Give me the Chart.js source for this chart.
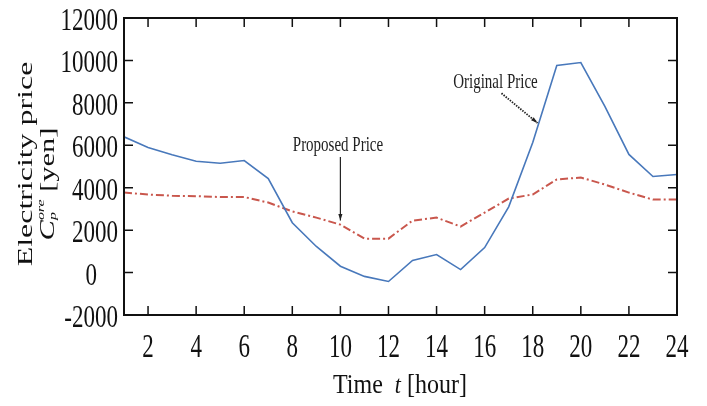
<!DOCTYPE html>
<html>
<head>
<meta charset="utf-8">
<script src="https://cdn.jsdelivr.net/npm/chart.js@4.4.1/dist/chart.umd.min.js"></script>
<style>
  html, body { margin: 0; padding: 0; background: #fff; }
  #wrap { width: 707px; height: 406px; position: relative; }
</style>
</head>
<body>
<div id="wrap"><canvas id="priceChart"></canvas></div>
<script>
// hours 1..24
var hours = [1,2,3,4,5,6,7,8,9,10,11,12,13,14,15,16,17,18,19,20,21,22,23,24];
// Original price (blue, solid)
var originalPrice = [6400,5900,5550,5250,5150,5280,4430,2350,1230,300,-180,-420,570,850,140,1180,3100,6130,9760,9900,7830,5570,4530,4620];
// Proposed price (red, dash-dot)
var proposedPrice = [3770,3680,3620,3600,3560,3560,3300,2880,2590,2260,1600,1600,2450,2590,2170,2830,3490,3680,4390,4480,4150,3770,3440,3440];
var xTicks = [2,4,6,8,10,12,14,16,18,20,22,24];
var yTicks = [-2000,0,2000,4000,6000,8000,10000,12000];

var serif = "'Liberation Serif', 'Times New Roman', serif";
var STRETCH = 1.45; // the reference text is drawn tall and narrow

function toPoints(ys) {
    return hours.map(function (h, i) { return { x: h, y: ys[i] }; });
}

// text drawn taller than wide, like the reference
function tallText(ctx, txt, x, y, font, align, sy) {
    ctx.save();
    ctx.translate(x, y);
    ctx.scale(1, sy);
    ctx.font = font;
    ctx.textAlign = align;
    ctx.textBaseline = 'alphabetic';
    ctx.fillText(txt, 0, 0);
    ctx.restore();
}

// inward ticks, frame, tick labels, axis titles and the two labelled arrows
var decor = {
    id: 'decor',
    afterDatasetsDraw: function (chart) {
        var ctx = chart.ctx;
        var a = chart.chartArea;
        var xs = chart.scales.x, ys = chart.scales.y;
        ctx.save();

        // frame
        ctx.strokeStyle = '#111';
        ctx.lineWidth = 2;
        ctx.strokeRect(a.left, a.top, a.right - a.left, a.bottom - a.top);

        // inward tick marks
        ctx.lineWidth = 1.5;
        ctx.beginPath();
        xTicks.forEach(function (v) {
            var px = xs.getPixelForValue(v);
            ctx.moveTo(px, a.bottom); ctx.lineTo(px, a.bottom - 9);
            ctx.moveTo(px, a.top); ctx.lineTo(px, a.top + 9);
        });
        yTicks.forEach(function (v) {
            var py = ys.getPixelForValue(v);
            ctx.moveTo(a.left, py); ctx.lineTo(a.left + 9, py);
            ctx.moveTo(a.right, py); ctx.lineTo(a.right - 9, py);
        });
        ctx.stroke();

        // tick labels
        ctx.fillStyle = '#111';
        xTicks.forEach(function (v) {
            tallText(ctx, String(v), xs.getPixelForValue(v), a.bottom + 42, '23px ' + serif, 'center', 1.5);
        });
        yTicks.forEach(function (v) {
            // the "0" label sits centred under the wider labels in the original
            var rx = v === 0 ? a.left - 27 : a.left - 6;
            tallText(ctx, String(v), rx, ys.getPixelForValue(v) + 12, '23px ' + serif, 'right', 1.4);
        });

        // annotations
        ctx.fillStyle = '#222';
        tallText(ctx, 'Original Price', xs.getPixelForValue(16.45), ys.getPixelForValue(8720), '15px ' + serif, 'center', STRETCH);
        tallText(ctx, 'Proposed Price', xs.getPixelForValue(9.9), ys.getPixelForValue(5750), '15px ' + serif, 'center', STRETCH);

        function arrow(x1, y1, x2, y2, dashed) {
            var p1 = [xs.getPixelForValue(x1), ys.getPixelForValue(y1)];
            var p2 = [xs.getPixelForValue(x2), ys.getPixelForValue(y2)];
            ctx.strokeStyle = '#222';
            ctx.lineWidth = dashed ? 1.8 : 1.2;
            ctx.setLineDash(dashed ? [1.5, 1.2] : []);
            ctx.beginPath();
            ctx.moveTo(p1[0], p1[1]); ctx.lineTo(p2[0], p2[1]);
            ctx.stroke();
            ctx.setLineDash([]);
            var ang = Math.atan2(p2[1] - p1[1], p2[0] - p1[0]);
            ctx.beginPath();
            ctx.moveTo(p2[0], p2[1]);
            ctx.lineTo(p2[0] - 7 * Math.cos(ang - 0.3), p2[1] - 7 * Math.sin(ang - 0.3));
            ctx.lineTo(p2[0] - 7 * Math.cos(ang + 0.3), p2[1] - 7 * Math.sin(ang + 0.3));
            ctx.closePath();
            ctx.fillStyle = '#222';
            ctx.fill();
        }
        arrow(16.7, 8450, 18.2, 7050, true);
        arrow(10, 5450, 10, 2450, false);

        // x title: Time t [hour]
        ctx.fillStyle = '#111';
        ctx.save();
        ctx.translate(0, 393);
        ctx.scale(1, 1.15);
        ctx.textBaseline = 'alphabetic';
        ctx.textAlign = 'left';
        var parts = [['Time  ', '24px ' + serif], ['t', 'italic 22px ' + serif], [' [hour]', '24px ' + serif]];
        var total = 0;
        parts.forEach(function (p) { ctx.font = p[1]; total += ctx.measureText(p[0]).width; });
        var tx = 400 - total / 2;
        parts.forEach(function (p) { ctx.font = p[1]; ctx.fillText(p[0], tx, 0); tx += ctx.measureText(p[0]).width; });
        ctx.restore();

        // y title, rotated, two lines
        ctx.save();
        ctx.translate(26, 164);
        ctx.rotate(-Math.PI / 2);
        ctx.scale(STRETCH, 1);
        ctx.textAlign = 'center';
        ctx.textBaseline = 'middle';
        ctx.font = '22px ' + serif;
        ctx.fillText('Electricity price', 0, 0);
        ctx.restore();

        ctx.save();
        ctx.translate(48, 184);
        ctx.rotate(-Math.PI / 2);
        ctx.scale(STRETCH, 1);
        ctx.textBaseline = 'middle';
        ctx.textAlign = 'left';
        var segs = [['C', 'italic 21px ' + serif, 0], ['p', 'italic 11px ' + serif, 5], ['ore', 'italic 11px ' + serif, -7], [' [yen]', '21px ' + serif, 0]];
        var w = 0;
        ctx.font = segs[0][1]; w += ctx.measureText('C').width;
        ctx.font = segs[2][1]; w += ctx.measureText('ore').width;
        ctx.font = segs[3][1]; w += ctx.measureText(' [yen]').width;
        var cx = -w / 2, subX = 0;
        segs.forEach(function (s, i) {
            ctx.font = s[1];
            if (i === 1) { subX = cx; ctx.fillText(s[0], cx, s[2]); return; }
            if (i === 2) { ctx.fillText(s[0], subX, s[2]); cx = subX + ctx.measureText(s[0]).width; return; }
            ctx.fillText(s[0], cx, s[2]);
            cx += ctx.measureText(s[0]).width;
        });
        ctx.restore();

        ctx.restore();
    }
};

var ctx = document.getElementById('priceChart').getContext('2d');
var priceChart = new Chart(ctx, {
    type: 'line',
    data: {
        datasets: [
            {
                label: 'Original Price',
                data: toPoints(originalPrice),
                borderColor: '#4878bb',
                borderWidth: 1.6,
                pointRadius: 0,
                tension: 0,
                fill: false
            },
            {
                label: 'Proposed Price',
                data: toPoints(proposedPrice),
                borderColor: '#c9574d',
                borderWidth: 2,
                borderDash: [8, 3, 2, 3],
                pointRadius: 0,
                tension: 0,
                fill: false
            }
        ]
    },
    options: {
        responsive: true,
        maintainAspectRatio: false,
        animation: false,
        layout: { padding: { top: 18, right: 30, left: 0, bottom: 0 } },
        plugins: { legend: { display: false }, tooltip: { enabled: false } },
        scales: {
            x: {
                type: 'linear',
                min: 1,
                max: 24,
                afterBuildTicks: function (scale) {
                    scale.ticks = xTicks.map(function (v) { return { value: v }; });
                },
                afterFit: function (scale) { scale.height = 91; },
                grid: { display: false, drawTicks: false },
                border: { display: false },
                ticks: { display: false }
            },
            y: {
                min: -2000,
                max: 12000,
                afterBuildTicks: function (scale) {
                    scale.ticks = yTicks.map(function (v) { return { value: v }; });
                },
                afterFit: function (scale) { scale.width = 124; },
                grid: { display: false, drawTicks: false },
                border: { display: false },
                ticks: { display: false }
            }
        }
    },
    plugins: [decor]
});
</script>
</body>
</html>
